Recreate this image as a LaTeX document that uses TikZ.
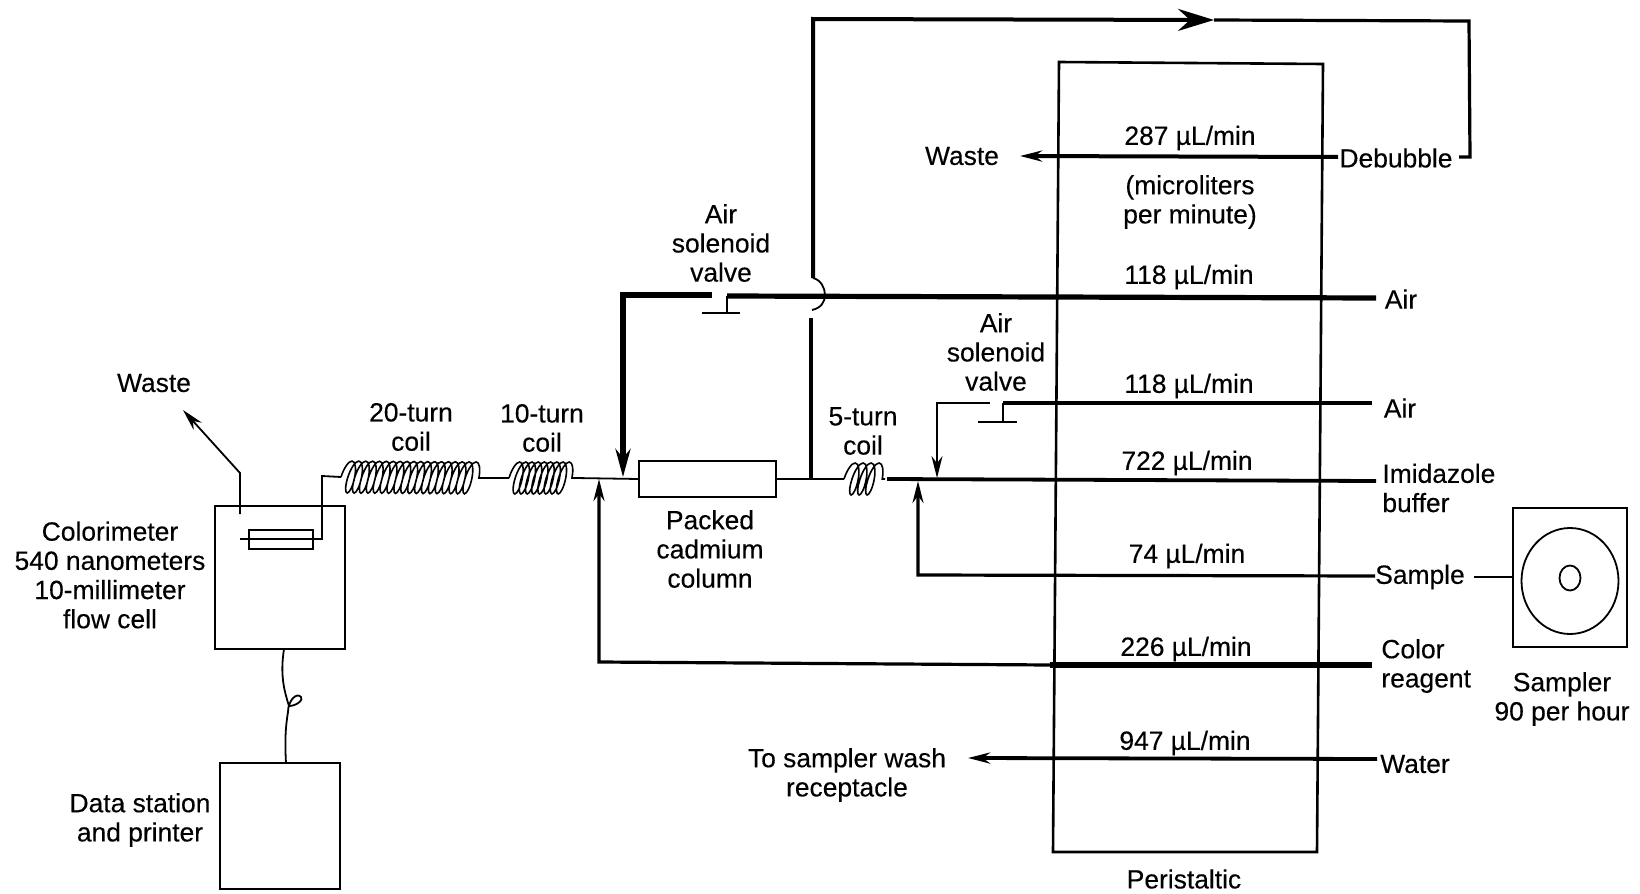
\documentclass[tikz,border=0pt]{standalone}
\usepackage{fontspec}
\setmainfont{Liberation Sans}[FakeBold=0.25]
\usepackage{tikz}
\usetikzlibrary{arrows.meta,decorations.pathmorphing,shapes.geometric}

\tikzset{
    lbl/.style={align=center, inner sep=0pt, font=\fontsize{13.2}{14.6}\selectfont},
    lblleft/.style={lbl, align=left, anchor=west},
    pipe/.style={line width=0.9pt},
    tube/.style={line width=1.6pt},
    heavy/.style={line width=2.6pt},
    box/.style={line width=1.1pt},
    bigtip/.style={-{Stealth[length=14pt,width=7.5pt]}},
    midtip/.style={-{Stealth[length=11pt,width=5.5pt]}},
    coilpipe/.style={line width=0.8pt, decorate, decoration={coil, aspect=0.32, amplitude=8pt, segment length=#1, transform={xslant=0.25}}}
}

\begin{document}
\begin{tikzpicture}[x=0.5pt, y=-0.5pt]
    \useasboundingbox (0,0) rectangle (1640,894);

    % colorimeter and data station
    \coordinate (colorTL) at (215,506);
    \coordinate (colorBR) at (345,649);
    \draw[box] (colorTL) rectangle (colorBR);
    \coordinate (dataTL) at (220,763);
    \coordinate (dataBR) at (340,889);
    \draw[box] (dataTL) rectangle (dataBR);
    \coordinate (cellTL) at (249,530);
    \coordinate (cellBR) at (313,549);
    \draw[pipe] (cellTL) rectangle (cellBR);

    \coordinate (wasteIn) at (240,514);
    \coordinate (wasteKnee) at (240,473);
    \coordinate (wasteTip) at (183,410);
    \draw[pipe, midtip] (wasteIn) -- (wasteKnee) -- (wasteTip);

    \coordinate (cellL) at (240,539);
    \coordinate (cellR) at (322,539);
    \coordinate (cellUp) at (322,476);
    \coordinate (coilA) at (341,477);
    \coordinate (coilAe) at (485,478);
    \coordinate (coilB) at (509,478);
    \coordinate (coilBe) at (575,478);
    \coordinate (colL) at (639,479);
    \coordinate (colR) at (776,479);
    \coordinate (coilC) at (844,479);
    \coordinate (coilCe) at (885,479);

    \draw[pipe] (cellL) -- (cellR) -- (cellUp) -- (coilA);
    \draw[coilpipe=3.45pt] (coilA) -- (coilAe);
    \draw[pipe] (coilAe) -- (coilB);
    \draw[coilpipe=3.1pt] (coilB) -- (coilBe);
    \draw[pipe] (coilBe) -- (colL);
    \draw[box] (639,461) rectangle (776,497);
    \draw[pipe] (colR) -- (coilC);
    \draw[coilpipe=4pt] (coilC) -- (coilCe);

    % cable
    \coordinate (cableA) at (284,649);
    \coordinate (cableB) at (286,763);
    \draw[pipe] (cableA) .. controls (280,675) and (284,690) .. (289,706)
        .. controls (296,706) and (304,700) .. (301,697)
        .. controls (297,692) and (288,700) .. (288,712)
        .. controls (285,730) and (285,745) .. (cableB);

    % pump
    \draw[box, line width=1.3pt] (1059,62) -- (1323,64) -- (1317,852) -- (1053,852) -- cycle;

    % tubes through the pump
    \coordinate (debL) at (1020,156);
    \coordinate (debR) at (1338,157);
    \draw[tube, line width=2pt, midtip] (debR) -- (debL);

    \coordinate (airL) at (623,295);
    \coordinate (airV) at (712,295);
    \coordinate (airS) at (727,296);
    \coordinate (airR) at (1376,298);
    \coordinate (airF) at (623,477);
    \draw[heavy, bigtip] (airV) -- (airL) -- (airF);
    \draw[heavy] (airS) -- (airR);
    \coordinate (stemA) at (727,313);
    \coordinate (baseAl) at (702,313);
    \coordinate (baseAr) at (740,313);
    \draw[pipe] (airS) -- (stemA);
    \draw[pipe] (baseAl) -- (baseAr);

    \coordinate (air2R) at (1372,403);
    \coordinate (air2S) at (1003,403);
    \coordinate (air2V) at (990,403);
    \coordinate (air2K) at (937,403);
    \coordinate (air2F) at (937,478);
    \draw[tube, line width=1.9pt] (air2R) -- (air2S);
    \draw[pipe, midtip] (air2V) -- (air2K) -- (air2F);
    \coordinate (stemB) at (1003,422);
    \coordinate (baseBl) at (978,422);
    \coordinate (baseBr) at (1017,422);
    \draw[pipe] (air2S) -- (stemB);
    \draw[pipe] (baseBl) -- (baseBr);

    \coordinate (bufL) at (887,479);
    \coordinate (bufR) at (1376,481);
    \draw[tube, line width=1.9pt] (bufL) -- (bufR);

    \coordinate (samR) at (1375,576);
    \coordinate (samK) at (918,575);
    \coordinate (samF) at (918,481);
    \draw[tube, midtip] (samR) -- (samK) -- (samF);

    \coordinate (colorR) at (1372,665);
    \coordinate (colorP) at (1050,665);
    \coordinate (colorK) at (599,662);
    \coordinate (colorF) at (599,479);
    \draw[heavy] (colorR) -- (colorP);
    \draw[tube, midtip] (colorP) -- (colorK) -- (colorF);

    \coordinate (waterR) at (1377,759);
    \coordinate (waterF) at (968,758);
    \draw[tube, line width=1.9pt, midtip] (waterR) -- (waterF);

    % debubble loop with the hop over the air line
    \coordinate (retA) at (811,479);
    \coordinate (retB) at (811,318);
    \coordinate (hopA) at (812,310);
    \coordinate (hopB) at (813,278);
    \coordinate (topL) at (813,19);
    \coordinate (topM) at (1214,20);
    \coordinate (topR) at (1469,21);
    \coordinate (debEnd) at (1470,157);
    \coordinate (debDash) at (1459,157);
    \draw[tube] (retA) -- (retB);
    \draw[pipe] (hopA) .. controls (821,308) and (825,302) .. (825,295)
        .. controls (825,288) and (821,280) .. (hopB);
    \draw[tube, line width=2pt, -{Stealth[length=18pt,width=11pt,inset=6pt]}] (hopB) -- (topL) -- (topM);
    \draw[tube] (topM) -- (topR) -- (debEnd) -- (debDash);

    % sampler
    \coordinate (samplerTL) at (1513,508);
    \coordinate (samplerBR) at (1627,647);
    \draw[box] (samplerTL) rectangle (samplerBR);
    \node[draw, ellipse, pipe, minimum width=48.5pt, minimum height=53pt, inner sep=0pt] (tray) at (1570,581) {};
    \node[draw, ellipse, pipe, minimum width=10.5pt, minimum height=12.5pt, inner sep=0pt] (cup) at (1570,578) {};
    \coordinate (samDash) at (1474,577);
    \draw[pipe] (samDash) -- (samplerTL |- samDash);

    % labels
    \node[lbl] (wasteA) at (154,383) {Waste};
    \node[lbl] (colorimeter) at (110,575) {Colorimeter\\540 nanometers\\10-millimeter\\flow cell};
    \node[lbl] (datastation) at (140,820) {Data station\\and printer};
    \node[lbl] (coil20) at (411,427) {20-turn\\coil};
    \node[lbl] (coil10) at (542,428) {10-turn\\coil};
    \node[lbl] (coil5) at (863,431) {5-turn\\coil};
    \node[lbl] (column) at (710,549) {Packed\\cadmium\\column};
    \node[lbl] (valveA) at (721,243) {Air\\solenoid\\valve};
    \node[lbl] (valveB) at (996,352) {Air\\solenoid\\valve};
    \node[lbl] (wasteB) at (962,156) {Waste};
    \node[lbl] (receptacle) at (847,775) {To sampler wash\\receptacle};

    \node[lbl] (rate287) at (1190,138) {287 µL/min};
    \node[lbl] (units) at (1190,202) {(microliters\\per minute)};
    \node[lbl] (rateAirA) at (1189,277) {118 µL/min};
    \node[lbl] (rateAirB) at (1189,386) {118 µL/min};
    \node[lbl] (rateBuf) at (1187,463) {722 µL/min};
    \node[lbl] (rateSam) at (1187,556) {74 µL/min};
    \node[lbl] (rateCol) at (1186,649) {226 µL/min};
    \node[lbl] (rateWat) at (1185,743) {947 µL/min};

    \node[lbl] (debubble) at (1396,158) {Debubble};
    \node[lbl] (airLabA) at (1401,299) {Air};
    \node[lbl] (airLabB) at (1400,408) {Air};
    \node[lblleft] (buffer) at (1382,488) {Imidazole\\buffer};
    \node[lbl] (sample) at (1420,577) {Sample};
    \node[lblleft] (reagent) at (1381,666) {Color\\reagent};
    \node[lbl] (water) at (1415,764) {Water};
    \node[lbl] (peristaltic) at (1184,879) {Peristaltic};
    \node[lbl] (sampler) at (1562,699) {Sampler\\90 per hour};
\end{tikzpicture}
\end{document}
